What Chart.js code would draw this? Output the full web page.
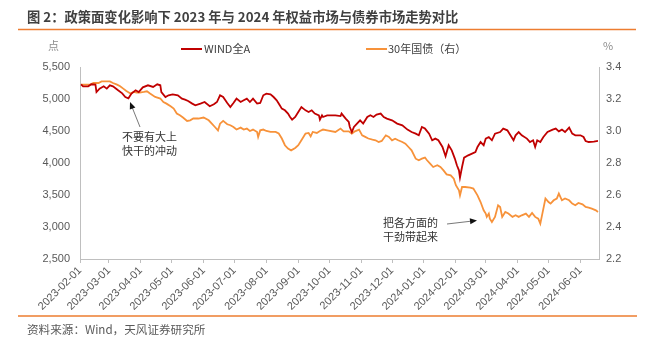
<!DOCTYPE html>
<html>
<head>
<meta charset="utf-8">
<script src="https://cdn.jsdelivr.net/npm/chart.js@4.4.1/dist/chart.umd.min.js"></script>
<style>
  html, body { margin: 0; padding: 0; background: #fff; }
  #wrap { width: 660px; height: 337px; }
</style>
</head>
<body>
<div id="wrap"><canvas id="chart" width="660" height="337"></canvas></div>
<script>
var titleText = "图 2：政策面变化影响下 2023 年与 2024 年权益市场与债券市场走势对比";
var sourceText = "资料来源：Wind，天风证券研究所";
var seriesNames = ["WIND全A", "30年国债（右）"];

var xStart = "2023-02-01", xEnd = "2024-06-19";
var tickLabels = ["2023-02-01", "2023-03-01", "2023-04-01", "2023-05-01", "2023-06-01", "2023-07-01",
  "2023-08-01", "2023-09-01", "2023-10-01", "2023-11-01", "2023-12-01", "2024-01-01",
  "2024-02-01", "2024-03-01", "2024-04-01", "2024-05-01", "2024-06-01"];

// WIND全A (left axis)
var equityDates = ["2023-02-02","2023-02-04","2023-02-09","2023-02-12","2023-02-16","2023-02-17","2023-02-20","2023-02-24","2023-02-27",
  "2023-03-02","2023-03-05","2023-03-10","2023-03-14","2023-03-17","2023-03-20","2023-03-23","2023-03-27","2023-03-30",
  "2023-04-03","2023-04-08","2023-04-13","2023-04-17","2023-04-20","2023-04-21","2023-04-25","2023-04-28",
  "2023-05-02","2023-05-07","2023-05-11","2023-05-14","2023-05-17","2023-05-21","2023-05-24","2023-05-29",
  "2023-06-02","2023-06-07","2023-06-11","2023-06-14","2023-06-17","2023-06-20","2023-06-24","2023-06-27","2023-06-30",
  "2023-07-03","2023-07-07","2023-07-10","2023-07-13","2023-07-16","2023-07-19","2023-07-23","2023-07-26","2023-07-29",
  "2023-08-01","2023-08-05","2023-08-08","2023-08-11","2023-08-14","2023-08-16","2023-08-19","2023-08-22","2023-08-24","2023-08-26","2023-08-29",
  "2023-09-01","2023-09-04","2023-09-08","2023-09-11","2023-09-14","2023-09-17","2023-09-21","2023-09-22","2023-09-24","2023-09-25","2023-09-29",
  "2023-10-07","2023-10-12","2023-10-13","2023-10-17","2023-10-20","2023-10-21","2023-10-23","2023-10-25","2023-10-28","2023-10-31",
  "2023-11-03","2023-11-07","2023-11-10","2023-11-13","2023-11-16","2023-11-20","2023-11-23","2023-11-26",
  "2023-12-01","2023-12-06","2023-12-11","2023-12-16","2023-12-20","2023-12-24","2023-12-27","2023-12-30",
  "2024-01-02","2024-01-06","2024-01-09","2024-01-12","2024-01-15","2024-01-19","2024-01-22","2024-01-25","2024-01-28","2024-01-31",
  "2024-02-02","2024-02-04","2024-02-05","2024-02-07","2024-02-09","2024-02-13","2024-02-20","2024-02-22","2024-02-25","2024-02-28",
  "2024-03-01","2024-03-04","2024-03-07","2024-03-10","2024-03-15","2024-03-18","2024-03-22","2024-03-25","2024-03-28","2024-03-30",
  "2024-04-02","2024-04-05","2024-04-10","2024-04-13","2024-04-16","2024-04-18","2024-04-20","2024-04-23","2024-04-26","2024-04-30",
  "2024-05-05","2024-05-08","2024-05-11","2024-05-14","2024-05-17","2024-05-21","2024-05-24","2024-05-27",
  "2024-06-01","2024-06-04","2024-06-06","2024-06-09","2024-06-14","2024-06-18"];
var equityValues = [5230,5198,5198,5230,5225,5109,5162,5198,5162,
  5214,5198,5136,5089,5031,5011,5084,5136,5109,
  5183,5214,5188,5230,5214,5109,5031,5058,
  5073,5058,5006,4991,4969,4928,4902,4928,
  4953,4886,4917,4953,5058,5031,4938,4875,4938,
  5006,4953,4980,5006,4953,5006,4928,4938,5058,
  5084,5073,5031,4980,4902,4850,4823,4772,4719,4678,4719,
  4797,4875,4823,4797,4823,4772,4745,4678,4745,4719,4745,
  4745,4734,4772,4694,4641,4563,4484,4563,4616,4667,
  4616,4719,4745,4719,4756,4772,4719,4694,
  4667,4616,4589,4522,4484,4459,4433,4563,
  4538,4459,4355,4381,4355,4250,4105,4277,4198,4069,
  3964,3886,3772,3938,4084,4120,4172,4250,4328,4277,
  4381,4406,4355,4459,4484,4538,4511,4433,4355,4433,
  4484,4433,4381,4328,4355,4250,4355,4328,4406,4484,
  4522,4538,4495,4522,4484,4553,4459,4433,
  4433,4406,4344,4328,4334,4344];

// 30年国债收益率 (right axis, %)
var bondDates = ["2023-02-02","2023-02-06","2023-02-11","2023-02-14","2023-02-19","2023-02-22","2023-02-27",
  "2023-03-02","2023-03-05","2023-03-09","2023-03-12","2023-03-15","2023-03-18","2023-03-22","2023-03-25","2023-03-28","2023-03-31",
  "2023-04-04","2023-04-07","2023-04-10","2023-04-15","2023-04-20","2023-04-23","2023-04-26","2023-04-30",
  "2023-05-03","2023-05-06","2023-05-09","2023-05-12","2023-05-16","2023-05-19","2023-05-22","2023-05-27",
  "2023-06-01","2023-06-06","2023-06-09","2023-06-12","2023-06-15","2023-06-17","2023-06-20","2023-06-24","2023-06-27","2023-06-30",
  "2023-07-03","2023-07-07","2023-07-10","2023-07-13","2023-07-16","2023-07-19","2023-07-23","2023-07-24","2023-07-26","2023-07-29",
  "2023-08-01","2023-08-05","2023-08-10","2023-08-13","2023-08-16","2023-08-19","2023-08-22","2023-08-25","2023-08-29",
  "2023-09-01","2023-09-04","2023-09-08","2023-09-11","2023-09-13","2023-09-15","2023-09-19","2023-09-22","2023-09-25","2023-09-29",
  "2023-10-07","2023-10-12","2023-10-15","2023-10-20","2023-10-23","2023-10-26","2023-10-30",
  "2023-11-02","2023-11-05","2023-11-08","2023-11-12","2023-11-15","2023-11-18","2023-11-21","2023-11-25","2023-11-28",
  "2023-12-01","2023-12-04","2023-12-07","2023-12-11","2023-12-14","2023-12-17","2023-12-20","2023-12-24","2023-12-27","2023-12-30",
  "2024-01-02","2024-01-04","2024-01-07","2024-01-10","2024-01-14","2024-01-17","2024-01-20","2024-01-23","2024-01-27","2024-01-30",
  "2024-02-01","2024-02-04","2024-02-05","2024-02-07","2024-02-10","2024-02-15","2024-02-18","2024-02-22","2024-02-25","2024-02-28",
  "2024-03-01","2024-03-02","2024-03-04","2024-03-05","2024-03-07","2024-03-10","2024-03-13","2024-03-15","2024-03-17","2024-03-20","2024-03-23","2024-03-27","2024-03-30",
  "2024-04-02","2024-04-05","2024-04-09","2024-04-12","2024-04-15","2024-04-18","2024-04-21","2024-04-23","2024-04-25","2024-04-28",
  "2024-05-01","2024-05-03","2024-05-06","2024-05-09","2024-05-11","2024-05-14","2024-05-17","2024-05-21","2024-05-24","2024-05-27","2024-05-30",
  "2024-06-03","2024-06-06","2024-06-09","2024-06-12","2024-06-16","2024-06-18"];
var bondValues = [3.29,3.29,3.29,3.30,3.30,3.31,3.31,
  3.31,3.30,3.29,3.28,3.265,3.25,3.234,3.244,3.24,3.24,
  3.244,3.248,3.234,3.213,3.203,3.181,3.171,3.154,
  3.14,3.109,3.098,3.084,3.063,3.067,3.078,3.078,
  3.084,3.067,3.046,3.025,3.004,3.046,3.063,3.042,3.036,3.025,
  3.009,3.021,3.009,3.015,3.000,3.009,2.994,2.963,3.004,3.009,
  3.000,2.994,2.994,2.984,2.953,2.911,2.890,2.879,2.894,
  2.911,2.942,2.984,2.988,2.967,2.994,2.988,3.000,3.009,3.004,
  2.994,3.015,2.998,2.998,2.984,2.998,3.009,
  2.973,2.963,2.953,2.946,2.942,2.931,2.938,2.973,2.963,
  2.942,2.952,2.942,2.931,2.921,2.900,2.879,2.827,2.817,2.827,
  2.834,2.817,2.796,2.775,2.786,2.775,2.754,2.729,2.723,2.702,
  2.661,2.629,2.598,2.650,2.650,2.646,2.640,2.598,2.556,2.504,
  2.484,2.463,2.484,2.452,2.431,2.463,2.536,2.525,2.463,2.494,2.484,2.463,2.473,
  2.463,2.473,2.484,2.463,2.488,2.463,2.452,2.421,2.484,2.578,
  2.556,2.546,2.567,2.578,2.609,2.567,2.578,2.567,2.546,2.536,2.550,
  2.542,2.525,2.521,2.515,2.504,2.494];

var RED = "#c00000", ORANGE = "#f7923a", LINE_ORANGE = "#ed7d31";
var GRAY_TEXT = "#595959", AXIS = "#bfbfbf";

function dayOffset(s) {
  var p = s.split("-");
  var base = xStart.split("-");
  return (Date.UTC(+p[0], p[1] - 1, +p[2]) - Date.UTC(+base[0], base[1] - 1, +base[2])) / 86400000;
}

function toPoints(dates, values) {
  return dates.map(function(d, i) { return { x: dayOffset(d), y: values[i] }; });
}

function arrow(c, x1, y1, x2, y2) {
  var a = Math.atan2(y2 - y1, x2 - x1), len = 7, w = 3;
  c.beginPath();
  c.moveTo(x1, y1);
  c.lineTo(x2 - Math.cos(a) * len * 0.8, y2 - Math.sin(a) * len * 0.8);
  c.stroke();
  c.beginPath();
  c.moveTo(x2, y2);
  c.lineTo(x2 - Math.cos(a) * len + Math.sin(a) * w, y2 - Math.sin(a) * len - Math.cos(a) * w);
  c.lineTo(x2 - Math.cos(a) * len - Math.sin(a) * w, y2 - Math.sin(a) * len + Math.cos(a) * w);
  c.closePath();
  c.fill();
}

var cjk = '"Noto Sans CJK SC", "Liberation Sans", sans-serif';

var decor = {
  id: "decor",
  afterDraw: function(chart) {
    var c = chart.ctx;
    c.save();
    c.textBaseline = "middle";

    c.fillStyle = "#404040";
    c.font = "bold 13.3px " + cjk;
    c.fillText(titleText, 27, 17);

    c.strokeStyle = LINE_ORANGE;
    c.lineWidth = 1.5;
    c.beginPath();
    c.moveTo(18, 29.5); c.lineTo(636, 29.5);
    c.moveTo(18, 316); c.lineTo(637, 316);
    c.stroke();

    c.fillStyle = GRAY_TEXT;
    c.font = "11.6px " + cjk;
    c.fillText(sourceText, 27, 330);

    // unit labels
    c.fillStyle = "#8c8c8c";
    c.font = "11px " + cjk;
    c.fillText("点", 48, 46);
    c.fillText("%", 603, 46);

    // legend
    var ds = chart.data.datasets;
    var legend = [[181, 204], [366, 388]];
    c.font = "11px " + cjk;
    for (var i = 0; i < ds.length; i++) {
      c.strokeStyle = ds[i].borderColor;
      c.lineWidth = 2;
      c.beginPath();
      c.moveTo(legend[i][0], 49); c.lineTo(legend[i][0] + 21, 49);
      c.stroke();
      c.fillStyle = "#404040";
      c.fillText(ds[i].label, legend[i][1], 48.5);
    }

    // annotations
    c.fillStyle = "#333";
    c.fillText("不要有大上", 122, 137);
    c.fillText("快干的冲动", 122, 151);
    c.fillText("把各方面的", 383, 222.5);
    c.fillText("干劲带起来", 383, 236.5);
    c.strokeStyle = "#555";
    c.fillStyle = "#111";
    c.lineWidth = 0.8;
    arrow(c, 140, 127, 130, 102);
    arrow(c, 447, 224, 477, 220.5);

    c.restore();
  }
};

Chart.defaults.font.family = '"Liberation Sans", "Noto Sans CJK SC", sans-serif';
Chart.defaults.color = GRAY_TEXT;

new Chart(document.getElementById("chart"), {
  type: "line",
  data: {
    datasets: [
      {
        label: seriesNames[0],
        data: toPoints(equityDates, equityValues),
        yAxisID: "yL",
        borderColor: RED,
        borderWidth: 1.8,
        pointRadius: 0,
        tension: 0
      },
      {
        label: seriesNames[1],
        data: toPoints(bondDates, bondValues),
        yAxisID: "yR",
        borderColor: ORANGE,
        borderWidth: 1.8,
        pointRadius: 0,
        tension: 0
      }
    ]
  },
  options: {
    responsive: false,
    animation: false,
    events: [],
    layout: { padding: { top: 67, left: 0, right: 0, bottom: 0 } },
    plugins: {
      legend: { display: false },
      title: { display: false },
      tooltip: { enabled: false }
    },
    scales: {
      x: {
        type: "linear",
        min: dayOffset(xStart),
        max: dayOffset(xEnd),
        afterBuildTicks: function(s) {
          s.ticks = tickLabels.map(function(t) { return { value: dayOffset(t) }; });
        },
        afterFit: function(s) { s.height = 78; },
        ticks: {
          autoSkip: false,
          minRotation: 45,
          maxRotation: 45,
          padding: 1,
          font: { size: 11 },
          color: GRAY_TEXT,
          callback: function(v, i) { return tickLabels[i]; }
        },
        grid: { drawOnChartArea: false, drawTicks: true, tickLength: 4, color: AXIS },
        border: { color: AXIS }
      },
      yL: {
        position: "left",
        min: 2500,
        max: 5500,
        afterFit: function(s) { s.width = 80; },
        ticks: {
          stepSize: 500,
          padding: 10,
          font: { size: 11 },
          color: GRAY_TEXT,
          callback: function(v) { return v.toLocaleString("en-US"); }
        },
        grid: { display: false, drawTicks: false },
        border: { color: AXIS }
      },
      yR: {
        position: "right",
        min: 2.2,
        max: 3.4,
        afterFit: function(s) { s.width = 61; },
        ticks: {
          stepSize: 0.2,
          padding: 7,
          font: { size: 11 },
          color: GRAY_TEXT,
          callback: function(v) { return v.toFixed(1); }
        },
        grid: { display: false, drawTicks: false },
        border: { color: AXIS }
      }
    }
  },
  plugins: [decor]
});
</script>
</body>
</html>
